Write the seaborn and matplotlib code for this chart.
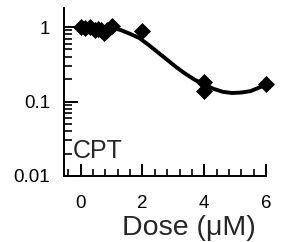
import numpy as np
import pandas as pd
import matplotlib
matplotlib.use('Agg')
import matplotlib.pyplot as plt
import matplotlib.ticker as mticker
import seaborn as sns

dose = [0.0, 0.15, 0.3, 0.45, 0.55, 0.65, 0.75, 0.85, 1.0, 2.0, 4.0, 4.0, 6.0]
survival = [1.0, 0.97, 0.99, 0.92, 0.95, 0.9, 0.84, 0.9, 1.03, 0.89, 0.18, 0.14, 0.17]

# fitted curve
fit_dose = [0.0, 0.5, 1.0, 1.3, 1.6, 1.9, 2.2, 2.5, 2.8, 3.1, 3.4, 3.7,
            4.0, 4.3, 4.6, 4.9, 5.2, 5.5, 5.8, 6.0]
fit_survival = [1.0, 1.0, 0.98, 0.91, 0.81, 0.71, 0.575, 0.457, 0.363, 0.288,
                0.234, 0.195, 0.17, 0.148, 0.135, 0.130, 0.132, 0.138, 0.155, 0.17]

x_ticks = [0, 2, 4, 6]
y_ticks = [0.01, 0.1, 1]
y_labels = ['0.01', '0.1', '1']
drug = 'CPT'

sns.set_style('ticks')
plt.rcParams['font.family'] = ['Liberation Sans', 'DejaVu Sans']

points = pd.DataFrame({'dose': dose, 'survival': survival})
curve = pd.DataFrame({'dose': fit_dose, 'survival': fit_survival})

fig = plt.figure(figsize=(2.81, 2.42), dpi=100)
ax = fig.add_axes([64 / 281, 1 - 176 / 242, 202 / 281, 168 / 242])

sns.lineplot(data=curve, x='dose', y='survival', ax=ax, color='black',
             linewidth=2.8, clip_on=False)
sns.scatterplot(data=points, x='dose', y='survival', ax=ax, marker='D',
                color='black', s=75, edgecolor='black', linewidth=0,
                clip_on=False, zorder=5)

ax.set_yscale('log')
ax.set_ylim(0.01, 1.8)
ax.set_xlim(-0.54, 6.0)

ax.set_xticks(x_ticks)
ax.set_xticklabels([str(t) for t in x_ticks])
ax.xaxis.set_minor_locator(mticker.MultipleLocator(0.4))
ax.set_yticks(y_ticks)
ax.set_yticklabels(y_labels)
ax.yaxis.set_minor_locator(mticker.LogLocator(base=10, subs=np.arange(2, 10)))
ax.yaxis.set_minor_formatter(mticker.NullFormatter())

ax.tick_params(axis='both', which='major', direction='in', width=1.4,
               labelsize=13.5, colors='black')
ax.tick_params(axis='x', which='major', length=8.5, pad=13.5)
ax.tick_params(axis='y', which='major', length=10, pad=10)
ax.tick_params(axis='x', which='minor', direction='in', length=5, width=1.4)
ax.tick_params(axis='y', which='minor', direction='in', length=5.5, width=1.4)

for side in ['top', 'right']:
    ax.spines[side].set_visible(False)
for side in ['left', 'bottom']:
    ax.spines[side].set_linewidth(1.4)
    ax.spines[side].set_color('black')

ax.set_xlabel('')
ax.set_ylabel('')
ax.text(0.045, 0.107, drug, transform=ax.transAxes, fontsize=18,
        ha='left', va='baseline')
fig.text(189 / 281, 1 - 235 / 242, 'Dose (\u03bcM)', fontsize=20.5,
         ha='center', va='baseline')

fig.savefig('out.png', dpi=100)
